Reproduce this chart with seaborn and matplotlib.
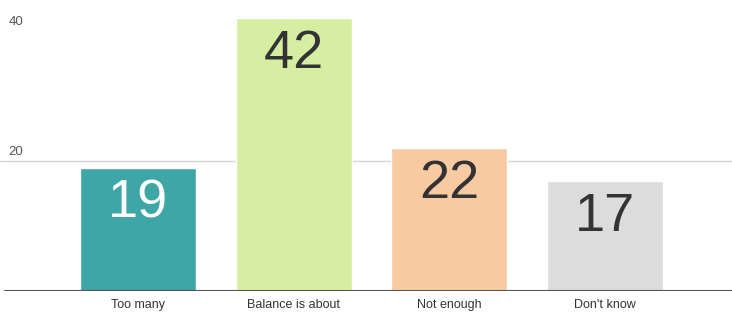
import matplotlib
matplotlib.use('Agg')
import matplotlib.pyplot as plt
import seaborn as sns
import pandas as pd

# data
categories = ['Too many', 'Balance is about', 'Not enough', "Don't know"]
values = [19, 42, 22, 17]
bar_colors = ['#3ea6a6', '#d6eea2', '#f8caa2', '#dcdcdc']
label_colors = ['white', '#333333', '#333333', '#333333']

df = pd.DataFrame({'category': categories, 'value': values})

sns.set_style('white')
plt.rcParams['font.family'] = ['Liberation Sans', 'DejaVu Sans']

fig = plt.figure(figsize=(7.32, 3.17), dpi=100)
ax = fig.add_axes([0.0, 1 - 291 / 317, 1.0, 291 / 317])

sns.barplot(data=df, x='category', y='value', hue='category', palette=bar_colors,
            width=0.745, legend=False, ax=ax, saturation=1)

ax.set_xlim(-0.886, 3.816)
ax.set_ylim(0, 44.8)

# gridline at 20 only, dark baseline
ax.axhline(20, color='#d4d4d4', linewidth=1, zorder=0)
ax.axhline(0, xmin=0.007, color='#555555', linewidth=1.5, zorder=3)

for s in ax.spines.values():
    s.set_visible(False)

ax.set_yticks([])
for v in [20, 40]:
    ax.text(-0.83, v + 0.5, str(v), fontsize=9.5, color='#555555', ha='left', va='bottom')

ax.set_xlabel('')
ax.set_ylabel('')
ax.tick_params(axis='x', length=0, pad=6, labelsize=9, labelcolor='#333333')

for i, (v, c) in enumerate(zip(values, label_colors)):
    ax.annotate(str(v), (i, v), xytext=(0, -8), textcoords='offset points',
                ha='center', va='top', fontsize=39, color=c)

fig.savefig('out.png', dpi=100)
plt.close(fig)
